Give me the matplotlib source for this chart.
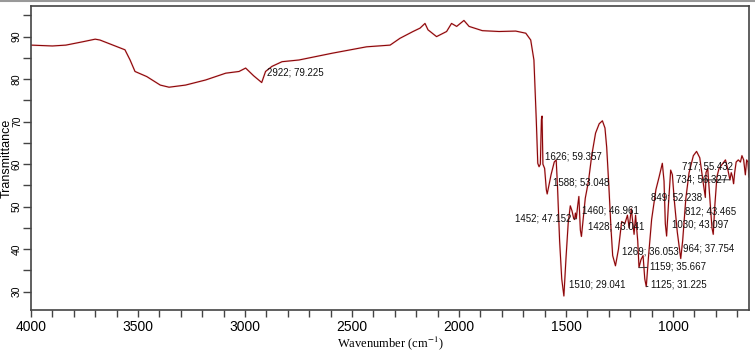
import matplotlib.pyplot as plt
from matplotlib.ticker import MultipleLocator
from matplotlib.lines import Line2D

# spectrum (wavenumber, transmittance)
wavenumber = [4000, 3900, 3837, 3757, 3700, 3678, 3617, 3561, 3537, 3514, 3459, 3396,
              3355, 3278, 3184, 3090, 3028, 2997, 2960, 2922, 2904, 2874, 2827, 2748,
              2592, 2432, 2322, 2276, 2215, 2182, 2159, 2145, 2105, 2058, 2035, 2011,
              1977, 1953, 1891, 1813, 1735, 1688, 1665, 1650, 1639, 1632, 1626, 1620,
              1615, 1612, 1608, 1600, 1592, 1588, 1582, 1570, 1555, 1546, 1540, 1530,
              1520, 1510, 1500, 1490, 1480, 1472, 1464, 1460, 1456, 1452, 1446, 1440,
              1433, 1428, 1420, 1410, 1395, 1380, 1362, 1345, 1330, 1318, 1310, 1300,
              1290, 1282, 1269, 1255, 1240, 1225, 1213, 1205, 1195, 1182, 1175, 1165,
              1159, 1150, 1140, 1132, 1125, 1115, 1100, 1080, 1065, 1050, 1042, 1036,
              1030, 1022, 1011, 1003, 995, 980, 964, 955, 940, 925, 905, 890, 875, 860,
              849, 846, 838, 828, 818, 812, 805, 795, 785, 770, 755, 745, 734, 728, 722,
              717, 712, 705, 695, 685, 678, 670, 662, 656, 650, 645]
transmittance = [88.0, 87.8, 88.0, 88.8, 89.4, 89.2, 88.0, 86.9, 84.5, 81.8, 80.6, 78.6,
                 78.1, 78.6, 79.8, 81.4, 81.8, 82.6, 80.8, 79.2, 81.8, 83.0, 84.1, 84.5,
                 86.1, 87.6, 88.0, 89.6, 91.2, 92.0, 93.1, 91.6, 90.0, 91.2, 93.1, 92.4,
                 93.8, 92.4, 91.4, 91.2, 91.3, 90.8, 89.2, 84.5, 70.4, 60.2, 59.4, 60.0,
                 70.5, 71.3, 60.0, 59.0, 54.0, 53.0, 54.5, 57.5, 60.5, 61.0, 55.0, 42.0,
                 33.0, 29.0, 38.0, 46.0, 50.2, 49.0, 47.2, 47.0, 48.5, 47.2, 50.0, 52.4,
                 44.5, 43.0, 47.0, 52.0, 56.0, 62.0, 67.3, 69.5, 70.2, 68.5, 64.0, 55.0,
                 45.0, 38.5, 36.1, 40.0, 46.5, 46.0, 48.0, 45.0, 49.5, 43.5, 48.0, 42.0,
                 35.7, 37.5, 38.5, 33.0, 31.2, 38.0, 47.0, 54.0, 57.0, 60.2, 56.0, 46.0,
                 43.1, 50.0, 58.6, 57.5, 52.0, 44.0, 37.8, 42.0, 52.0, 58.0, 62.0, 63.0,
                 61.5, 56.0, 52.2, 58.0, 59.0, 52.0, 45.0, 43.5, 50.0, 57.0, 59.0, 60.0,
                 61.0, 59.0, 56.3, 58.0, 57.0, 55.4, 58.0, 60.5, 61.0, 60.5, 62.0, 61.0,
                 57.5, 61.0, 60.5, 57.0]

# peak labels: text, peak position, text anchor position, alignment, dash
peak_text = ["2922; 79.225", "1626; 59.357", "1588; 53.048", "1460; 46.961",
             "1452; 47.152", "1428; 43.041", "1510; 29.041", "1269; 36.053",
             "1159; 35.667", "1125; 31.225", "1030; 43.097", "964; 37.754",
             "812; 43.465", "849; 52.238", "734; 56.327", "717; 55.432"]
peak_x = [2922, 1626, 1588, 1460, 1452, 1428, 1510, 1269,
          1159, 1125, 1030, 964, 812, 849, 734, 717]
peak_y = [79.225, 59.357, 53.048, 46.961, 47.152, 43.041, 29.041, 36.053,
          35.667, 31.225, 43.097, 37.754, 43.465, 52.238, 56.327, 55.432]
text_x = [2897, 1598, 1559, 1427, 1476, 1396, 1485, 1240,
          1108, 1104, 1006, 952, 944, 862, 745, 722]
text_y = [81.5, 61.8, 55.6, 49.2, 47.3, 45.3, 31.6, 39.4,
          35.9, 31.6, 45.7, 40.2, 48.8, 52.1, 56.3, 59.4]
text_ha = ["left", "left", "left", "left", "right", "left", "left", "left",
           "left", "left", "left", "left", "left", "right", "right", "right"]
has_dash = [False, False, False, False, True, False, False, False,
            True, True, False, False, False, True, True, False]

plt.rcParams['font.family'] = ['Liberation Sans', 'DejaVu Sans']
plt.rcParams['mathtext.fontset'] = 'stix'

fig = plt.figure(figsize=(7.55, 3.54), dpi=100)
ax = fig.add_axes([31/755, 1-310/354, 718/755, 304/354])

# faint pink halo under the dark red trace
ax.plot(wavenumber, transmittance, color='#f0a8a8', lw=1.4, alpha=0.5)
ax.plot(wavenumber, transmittance, color='#8a0508', lw=0.8)

for i in range(len(peak_text)):
    if has_dash[i]:
        ax.annotate(peak_text[i], xy=(peak_x[i], peak_y[i]),
                    xytext=(text_x[i], text_y[i]), fontsize=7,
                    ha=text_ha[i], va='center', color='#111111',
                    arrowprops=dict(arrowstyle='-', color='#333333', lw=0.7,
                                    shrinkA=0, shrinkB=0))
    else:
        ax.text(text_x[i], text_y[i], peak_text[i], fontsize=7,
                ha=text_ha[i], va='center', color='#111111')

ax.set_xlim(4000, 645)
ax.set_ylim(25.7, 97.2)
ax.xaxis.set_major_locator(MultipleLocator(500))
ax.xaxis.set_minor_locator(MultipleLocator(100))
ax.yaxis.set_major_locator(MultipleLocator(10))
ax.yaxis.set_minor_locator(MultipleLocator(5))
ax.tick_params(which='both', direction='out', length=5, width=1, color='#444444')
ax.tick_params(axis='x', labelsize=10, pad=2)
ax.tick_params(axis='y', which='both', length=6, labelsize=7.5, pad=0.5)
for lab in ax.get_yticklabels():
    lab.set_rotation(90)
    lab.set_va('center')
for s in ax.spines.values():
    s.set_color('#444444')
    s.set_linewidth(1.2)

ax.set_ylabel('Transmittance', fontsize=9)
ax.yaxis.set_label_coords(-0.025, 0.5)
ax.set_xlabel('Wavenumber (cm$^{-1}$)', fontsize=9, family='Liberation Serif')
ax.xaxis.set_label_coords(0.5, -0.082)

# grey border line along the top of the image
fig.add_artist(Line2D([0, 1], [0.996, 0.996], color='#999999', lw=1.5))

fig.savefig('out.png', dpi=100)
